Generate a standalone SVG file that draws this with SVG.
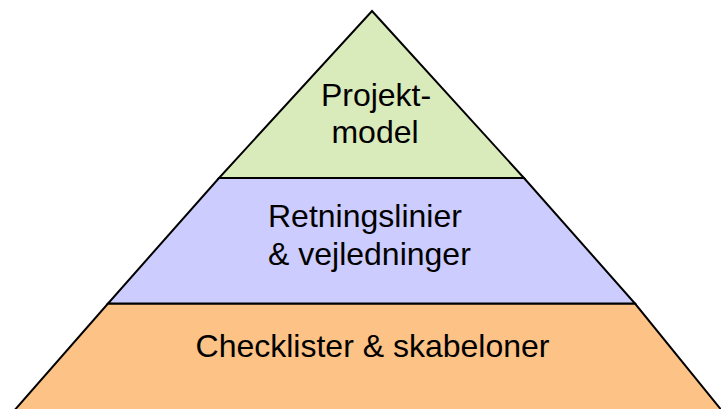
<svg xmlns="http://www.w3.org/2000/svg" width="721" height="409" viewBox="0 0 721 409">
<style>
.lvl{stroke:#000;stroke-width:2;stroke-linejoin:miter}
.t{font-family:"Liberation Sans",Arial,sans-serif;font-size:32px;fill:#000}
</style>
<rect width="721" height="409" fill="#fff"/>
<g id="bottom">
<polygon class="lvl" fill="#fdc285" points="108,303.5 635,303.5 723,412 13,412"/>
<text class="t" x="372.5" y="357" text-anchor="middle">Checklister &amp; skabeloner</text>
</g>
<g id="middle">
<polygon class="lvl" fill="#ccccff" points="219,178 524,178 635,303.5 108,303.5"/>
<text class="t" x="268" y="227">Retningslinier</text>
<text class="t" x="268" y="265">&amp; vejledninger</text>
</g>
<g id="top">
<polygon class="lvl" fill="#d9eabb" points="372,11 524,178 219,178"/>
<text class="t" x="376" y="106" text-anchor="middle">Projekt-</text>
<text class="t" x="375" y="143" text-anchor="middle">model</text>
</g>
<g id="connectors"/>
</svg>
